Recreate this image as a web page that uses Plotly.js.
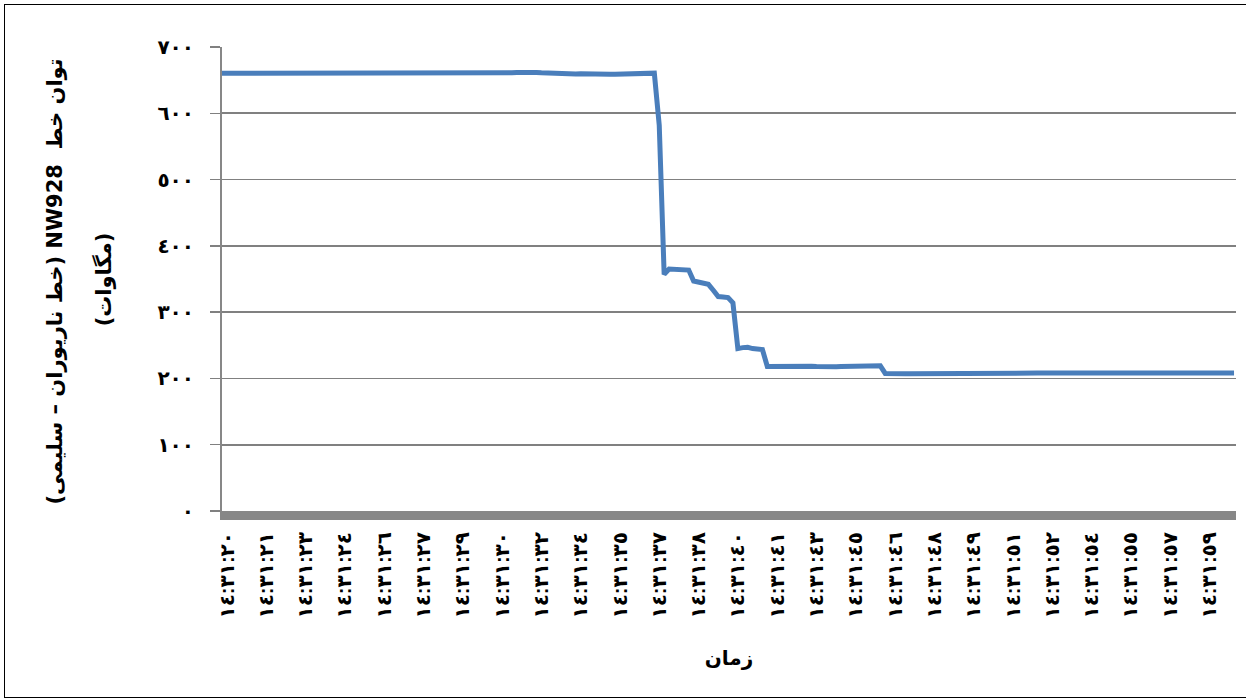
<!DOCTYPE html>
<html>
<head>
<meta charset="utf-8">
<script src="https://cdn.plot.ly/plotly-3.0.1.min.js"></script>
<style>
  html, body { margin: 0; padding: 0; overflow: hidden; background: #fff; }
  #chart { position: absolute; left: 0; top: 0; width: 1246px; height: 698px; }
  #frame { position: absolute; left: 4px; top: 4px; width: 1260px; height: 694px;
           border: 1px solid #000; box-sizing: border-box; pointer-events: none; }
</style>
</head>
<body>
<div id="chart"></div>
<div id="frame"></div>
<script>
// ---- data ----
// time labels shown on the category axis (one label every 8 samples)
const timeLabels = [
  "١٤:٣١:٢٠","١٤:٣١:٢١","١٤:٣١:٢٣","١٤:٣١:٢٤","١٤:٣١:٢٦","١٤:٣١:٢٧",
  "١٤:٣١:٢٩","١٤:٣١:٣٠","١٤:٣١:٣٢","١٤:٣١:٣٤","١٤:٣١:٣٥","١٤:٣١:٣٧",
  "١٤:٣١:٣٨","١٤:٣١:٤٠","١٤:٣١:٤١","١٤:٣١:٤٣","١٤:٣١:٤٥","١٤:٣١:٤٦",
  "١٤:٣١:٤٨","١٤:٣١:٤٩","١٤:٣١:٥١","١٤:٣١:٥٢","١٤:٣١:٥٤","١٤:٣١:٥٥",
  "١٤:٣١:٥٧","١٤:٣١:٥٩"
];
const samplesPerLabel = 8;

// line power of NW928 in MW, one value per sample
const powerMW = [
  // samples 0-88 : before the trip
  660.5, 660.5, 660.3, 660.6, 660.4, 660.0, 659.8, 659.5, 659.4, 659.3,
  659.4, 659.6, 660.0, 660.4, 660.8, 661.0, 661.0, 660.8, 660.5, 660.6,
  660.4, 660.2, 660.3, 660.1, 660.0, 660.2, 660.0, 660.3, 660.5, 660.7,
  660.9, 661.0, 660.8, 661.0, 661.0, 660.4, 659.8, 659.6, 659.5, 659.8,
  660.0, 660.3, 660.5, 660.4, 660.6, 660.5, 660.3, 660.2, 660.0, 659.9,
  660.0, 660.1, 660.0, 659.8, 659.9, 660.0, 660.1, 660.0, 660.5, 661.0,
  661.5, 661.8, 662.0, 662.0, 661.6, 661.0, 660.5, 660.2, 660.0, 659.6,
  659.2, 659.0, 659.3, 659.6, 659.8, 660.0, 659.8, 659.5, 659.2, 659.0,
  659.0, 659.0, 659.4, 659.8, 660.0, 660.2, 660.3, 660.5, 660.5,
  // samples 89-111 : step-wise reduction
  582.0, 357.0, 365.0, 364.5, 364.0, 364.0, 363.5, 347.0, 345.5, 345.0,
  342.0, 333.0, 323.5, 323.0, 322.0, 314.0, 245.0, 246.5, 247.0, 245.0,
  244.0, 243.5, 218.0,
  // samples 112-134
  218.2, 218.5, 218.6, 218.8, 219.0, 219.2, 219.2, 218.8, 218.4, 218.0,
  217.6, 217.4, 217.5, 217.8, 218.0, 218.3, 218.6, 218.8, 219.0, 219.0,
  219.1, 219.0, 219.0,
  // samples 135-206
  207.5, 207.0, 206.8, 206.8, 207.0, 207.2, 207.3, 207.4, 207.5, 207.6,
  207.6, 207.7, 207.7, 207.8, 207.7, 207.6, 207.7, 207.8, 207.9, 207.8,
  207.8, 207.9, 208.0, 207.9, 207.8, 207.9, 208.0, 208.0, 208.1, 208.0,
  208.0, 208.1, 208.1, 208.0, 208.1, 208.2, 208.2, 208.1, 208.2, 208.3,
  208.2, 208.2, 208.3, 208.2, 208.1, 208.2, 208.3, 208.3, 208.2, 208.2,
  208.1, 208.2, 208.3, 208.4, 208.3, 208.2, 208.3, 208.3, 208.2, 208.1,
  208.2, 208.3, 208.3, 208.4, 208.3, 208.2, 208.1, 208.2, 208.3, 208.4,
  208.4, 208.3
];

const yTickValues = [0, 100, 200, 300, 400, 500, 600, 700];
const yTickText   = ["٠", "١٠٠", "٢٠٠", "٣٠٠", "٤٠٠", "٥٠٠", "٦٠٠", "٧٠٠"];

const yTitleText = "توان خط  NW928 (خط ناریوران – سلیمی)";
const yTitleUnit = "(مگاوات)";
const xTitle = "زمان";

// ---- chart ----
const FONT = "Liberation Sans, 'DejaVu Sans', 'Noto Naskh Arabic', sans-serif";
const TITLE_FONT = "'DejaVu Sans', 'Noto Naskh Arabic', sans-serif";
const sampleIndex = powerMW.map((_, i) => i);
const xTickVals = timeLabels.map((_, i) => i * samplesPerLabel);

const RLE = "\u202B", PDF = "\u202C";
const titleLine1 = "<b>" + RLE + yTitleText + PDF + "</b>";
const titleLine2 = "<b>" + RLE + yTitleUnit + PDF + "</b>";

const trace = {
  type: "scatter",
  mode: "lines",
  x: sampleIndex,
  y: powerMW,
  line: { color: "#4A7EBB", width: 5 },
  hoverinfo: "skip"
};

const layout = {
  width: 1246,
  height: 698,
  margin: { l: 222, r: 10, t: 47, b: 187 },
  paper_bgcolor: "rgba(0,0,0,0)",
  plot_bgcolor: "#fff",
  showlegend: false,
  font: { family: FONT, color: "#000", size: 14 },
  xaxis: {
    range: [0, powerMW.length - 0.6],
    tickmode: "array",
    tickvals: xTickVals,
    ticktext: timeLabels.map(t => "<b>" + t + "</b>"),
    tickangle: -90,
    ticks: "",
    ticklabelshift: 5,
    ticklabelstandoff: 4,
    showgrid: false,
    zeroline: false,
    showline: true,
    linecolor: "#878787",
    linewidth: 9,
    tickfont: { family: FONT, size: 20, color: "#000", weight: "bold" },
    title: { text: "<b>" + xTitle + "</b>", font: { family: FONT, size: 20, color: "#000", weight: "bold" }, standoff: 37 }
  },
  yaxis: {
    range: [0, 700],
    tickmode: "array",
    tickvals: yTickValues,
    ticktext: yTickText.map(t => "<b>" + t + "</b>"),
    ticks: "outside",
    ticklen: 10,
    tickwidth: 1.5,
    tickcolor: "#808080",
    showgrid: true,
    gridcolor: "#808080",
    gridwidth: 1.6,
    zeroline: false,
    showline: true,
    linecolor: "#878787",
    linewidth: 2,
    ticklabelstandoff: 12,
    tickfont: { family: FONT, size: 20, color: "#000", weight: "bold" }
  },
  annotations: [
    {
      xref: "paper", yref: "paper",
      x: -0.165, y: 0.494,
      xanchor: "center", yanchor: "middle",
      textangle: -90,
      showarrow: false,
      text: titleLine1,
      font: { family: TITLE_FONT, size: 21, color: "#000", weight: "bold" }
    },
    {
      xref: "paper", yref: "paper",
      x: -0.117, y: 0.5,
      xanchor: "center", yanchor: "middle",
      textangle: -90,
      showarrow: false,
      text: titleLine2,
      font: { family: TITLE_FONT, size: 21, color: "#000", weight: "bold" }
    }
  ]
};

Plotly.newPlot("chart", [trace], layout, { displayModeBar: false, staticPlot: true });
</script>
</body>
</html>
